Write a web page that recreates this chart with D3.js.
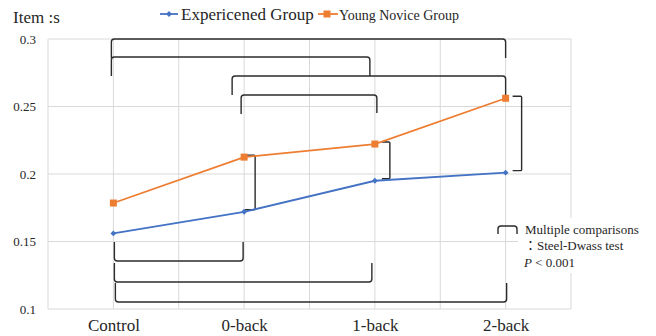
<!DOCTYPE html>
<html lang="en">
<head>
<meta charset="utf-8">
<script src="https://cdn.jsdelivr.net/npm/d3@7"></script>
<style>
  html, body { margin: 0; padding: 0; background: #fff; }
  svg { display: block; }
  svg text { font-family: "Liberation Serif", "Tinos", "Times New Roman", "Noto Sans CJK JP" !important; }
</style>
</head>
<body>
<svg id="chart" width="656" height="336" font-family="Liberation Serif"></svg>
<script>
// Conditions on the x axis
const categories = ["Control", "0-back", "1-back", "2-back"];

// Mean values per condition
const experienced = [0.156, 0.172, 0.195, 0.201];
const youngNovice = [0.1785, 0.2125, 0.2222, 0.2561];

const seriesNames = ["Expericened Group", "Young Novice Group"];
const yTicks = [0.1, 0.15, 0.2, 0.25, 0.3];

// Significant pairwise comparisons between conditions (level = bracket bar height)
const topComparisons = [
  { from: "Control", to: "2-back", level: 0.300 },
  { from: "Control", to: "1-back", level: 0.2867 },
  { from: "0-back", to: "2-back", level: 0.2726 },
  { from: "0-back", to: "1-back", level: 0.2585 }
];
const bottomComparisons = [
  { from: "Control", to: "0-back", level: 0.1356 },
  { from: "Control", to: "1-back", level: 0.120 },
  { from: "Control", to: "2-back", level: 0.1052 }
];
// Conditions where the two groups differ significantly
const groupComparisons = ["0-back", "1-back", "2-back"];

const noteLines = ["Multiple comparisons", "：Steel-Dwass test", "P < 0.001"];

const SERIF = '"Liberation Serif", "Tinos", "Times New Roman", "Noto Sans CJK JP"';
const TEXT = "#262626";

const svg = d3.select("#chart");
const margin = { left: 48, right: 85, top: 39, bottom: 27 };
const W = 656, H = 336;
const x0 = margin.left, x1 = W - margin.right;
const y0 = H - margin.bottom, y1 = margin.top;

const x = d3.scalePoint().domain(categories).range([x0, x1]).padding(0.5);
const y = d3.scaleLinear().domain([0.1, 0.3]).range([y0, y1]);

const blue = "#4472C4", orange = "#ED7D31", grid = "#d9d9d9", ink = "#2b2b2b";

function serif(sel, size) {
  return sel.attr("font-family", "Liberation Serif")
    .style("font-family", SERIF, "important")
    .style("font-size", size + "px").attr("fill", TEXT);
}

// Gridlines: horizontal at each tick, vertical at half-category steps
const g = svg.append("g");
g.selectAll("line.h").data(yTicks).join("line")
  .attr("x1", x0).attr("x2", x1)
  .attr("y1", d => y(d)).attr("y2", d => y(d))
  .attr("stroke", grid).attr("stroke-width", 1);
const half = x.step() / 2;
const vx = d3.range(0, categories.length * 2 + 1).map(k => x0 + k * half);
g.selectAll("line.v").data(vx).join("line")
  .attr("x1", d => d).attr("x2", d => d)
  .attr("y1", y1).attr("y2", y0)
  .attr("stroke", grid).attr("stroke-width", 1);

// Y axis labels
const yAxis = d3.axisLeft(y).tickValues(yTicks).tickSize(0).tickPadding(12)
  .tickFormat(d => String(+d.toFixed(2)));
const ya = svg.append("g").attr("transform", `translate(${x0},0)`).call(yAxis)
  .attr("font-family", "Liberation Serif").attr("font-size", null);
ya.select(".domain").remove();
serif(ya.selectAll("text"), 13);

// X axis labels
const xAxis = d3.axisBottom(x).tickSize(0).tickPadding(10);
const xa = svg.append("g").attr("transform", `translate(0,${y0})`).call(xAxis)
  .attr("font-family", "Liberation Serif").attr("font-size", null);
xa.select(".domain").remove();
serif(xa.selectAll("text"), 17);

function label(parent, tx, ty, size) {
  return serif(parent.append("text").attr("x", tx).attr("y", ty), size);
}

// Title
label(svg, 13, 23, 17).text("Item :s");

// Bracket path with slightly rounded corners; dir = 1 legs go down, -1 legs go up
function bracketPath(xa, xb, yBar, legA, legB, dir) {
  const r = 3 * dir;
  return `M${xa},${yBar + legA * dir} L${xa},${yBar + r} Q${xa},${yBar} ${xa + 3},${yBar}` +
         ` L${xb - 3},${yBar} Q${xb},${yBar} ${xb},${yBar + r} L${xb},${yBar + legB * dir}`;
}

// Small horizontal nudges so stacked brackets don't overlap at shared ends
const topNudge = [[-2, 0], [-2, -5], [-12, 0], [-3, 2]];
const topLegs = [[19, 19], [19, 19], [19, 22], [19, 18]];
const bG = svg.append("g").attr("fill", "none").attr("stroke", ink).attr("stroke-width", 1.4);
bG.selectAll("path.top").data(topComparisons).join("path")
  .attr("d", (d, i) => bracketPath(x(d.from) + topNudge[i][0], x(d.to) + topNudge[i][1],
    y(d.level), topLegs[i][0], topLegs[i][1], 1));

const botNudge = [[1, -1], [1, -3], [2, 1]];
bG.selectAll("path.bot").data(bottomComparisons).join("path")
  .attr("d", (d, i) => bracketPath(x(d.from) + botNudge[i][0], x(d.to) + botNudge[i][1],
    y(d.level), 19, 19, -1));

// Vertical brackets between the two groups at a condition
const sideOff = { "0-back": [1, 11], "1-back": [7, 15], "2-back": [7, 16] };
bG.selectAll("path.side").data(groupComparisons).join("path")
  .attr("d", c => {
    const i = categories.indexOf(c);
    const xc = x(c), [a, b] = sideOff[c];
    const yt = y(youngNovice[i]) - 2, yb = y(experienced[i]) - 2;
    return `M${xc + a},${yt} L${xc + b - 1},${yt} Q${xc + b},${yt} ${xc + b},${yt + 1}` +
           ` L${xc + b},${yb - 1} Q${xc + b},${yb} ${xc + b - 1},${yb} L${xc + a},${yb}`;
  });

// Series lines and markers
const line = d3.line().x((d, i) => x(categories[i])).y(d => y(d));
svg.append("path").datum(experienced).attr("d", line)
  .attr("fill", "none").attr("stroke", blue).attr("stroke-width", 1.8);
svg.append("path").datum(youngNovice).attr("d", line)
  .attr("fill", "none").attr("stroke", orange).attr("stroke-width", 1.8);

const diamond = d3.symbol().type(d3.symbolDiamond2).size(22);
svg.append("g").selectAll("path").data(experienced).join("path")
  .attr("transform", (d, i) => `translate(${x(categories[i])},${y(d)})`)
  .attr("d", diamond).attr("fill", blue);
svg.append("g").selectAll("rect").data(youngNovice).join("rect")
  .attr("x", (d, i) => x(categories[i]) - 3.5).attr("y", d => y(d) - 3.5)
  .attr("width", 7).attr("height", 7).attr("fill", orange);

// Legend
const lg = svg.append("g");
lg.append("line").attr("x1", 160).attr("x2", 178).attr("y1", 14).attr("y2", 14)
  .attr("stroke", blue).attr("stroke-width", 1.8);
lg.append("path").attr("transform", "translate(169,14)").attr("d", diamond).attr("fill", blue);
label(lg, 181, 20, 17).text(seriesNames[0]);
lg.append("line").attr("x1", 318).attr("x2", 338).attr("y1", 14).attr("y2", 14)
  .attr("stroke", orange).attr("stroke-width", 1.8);
lg.append("rect").attr("x", 323.5).attr("y", 10.5).attr("width", 7).attr("height", 7).attr("fill", orange);
label(lg, 339, 19.5, 14).text(seriesNames[1]);

// Note box explaining the brackets
const nb = svg.append("g");
nb.append("rect").attr("x", 518).attr("y", 218).attr("width", 138).attr("height", 55).attr("fill", "#fff");
nb.append("path").attr("fill", "none").attr("stroke", ink).attr("stroke-width", 1.4)
  .attr("d", bracketPath(498, 517, 226, 8, 8, 1));
label(nb, 525, 234, 13).text(noteLines[0]);
label(nb, 524, 250, 13).text(noteLines[1]);
const pt = label(nb, 524, 267, 13);
pt.append("tspan").style("font-style", "italic").text(noteLines[2].slice(0, 1));
pt.append("tspan").text(noteLines[2].slice(1));
</script>
</body>
</html>
